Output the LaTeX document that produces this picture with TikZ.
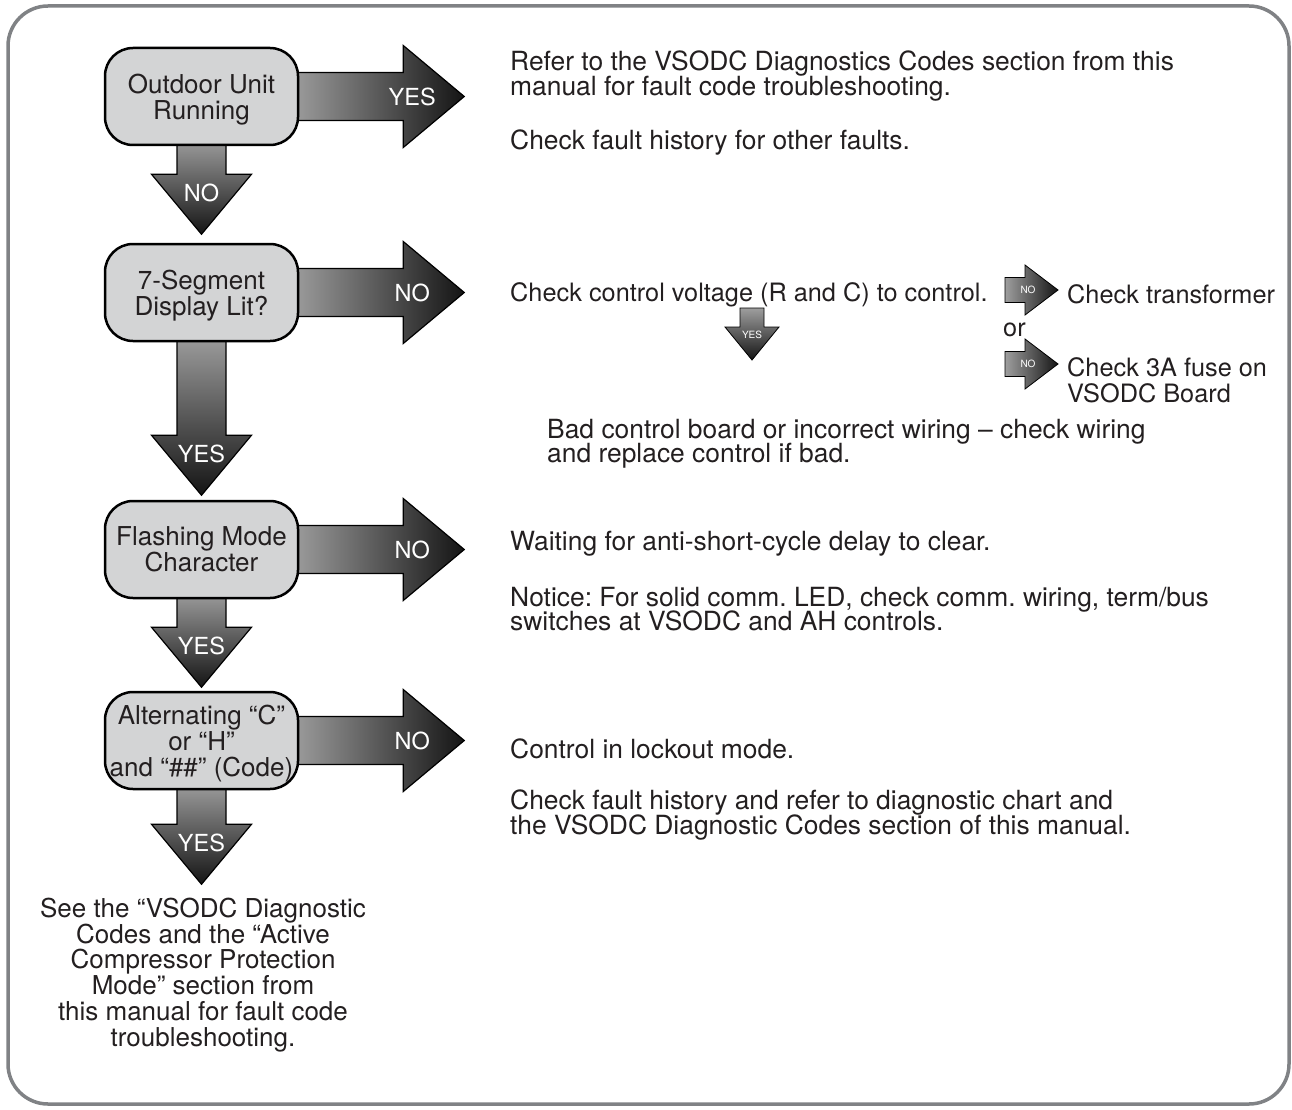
\documentclass[tikz,border=0pt]{standalone}
\usepackage{fontspec}
\setmainfont{TeX Gyre Heros}
\usepackage{tikz}
\usetikzlibrary{calc,backgrounds}
\definecolor{ink}{HTML}{231F20}
\definecolor{framegray}{HTML}{808285}
\definecolor{boxgray}{HTML}{D3D4D5}
\frenchspacing
\newcommand{\boxfont}{\fontsize{26}{26}\selectfont}
\newcommand{\notefont}{\fontsize{26.4}{24.5}\selectfont\lineskiplimit=-20pt}
\newcommand{\smallnotefont}{\fontsize{25.3}{26}\selectfont\lineskiplimit=-20pt}
\newcommand{\lblfont}{\fontsize{23.5}{24}\selectfont}
\newcommand{\tinyfont}{\fontsize{10}{10}\selectfont}

\tikzset{
  decision/.style={draw=black, line width=2.5pt, fill=boxgray, rounded corners=28pt,
    minimum width=193pt, minimum height=97pt, inner sep=2pt, text depth=0pt,
    align=center, font=\boxfont, text=ink},
  note/.style={anchor=west, align=left, inner sep=0pt, yshift=-3pt, font=\notefont, text=ink},
  smallnote/.style={note, font=\smallnotefont},
  rarrow/.style={draw=black, line width=1.2pt, left color=black!38, right color=black!92},
  darrow/.style={draw=black, line width=1.2pt, top color=black!38, bottom color=black!92},
  arrowlabel/.style={text=white, inner sep=0pt, font=\lblfont},
  tinylabel/.style={text=white, inner sep=0pt, font=\tinyfont},
}

% big block arrows hanging off a decision box
\newcommand{\bigright}[2]{%
  \begin{pgfonlayer}{background}
  \draw[rarrow] (#1.east) ++(-8,-24) -- ++(112,0) -- ++(0,-27) -- ++(61,51)
    -- ++(-61,51) -- ++(0,-27) -- ++(-112,0) -- cycle;
  \end{pgfonlayer}
  \node[arrowlabel] (#1-r) at ($(#1.east)+(113,0)$) {#2};}
\newcommand{\bigdown}[3]{%
  \begin{pgfonlayer}{background}
  \draw[darrow] (#1.south) ++(-24.5,-8) -- ++(0,#2+8) -- ++(-25.5,0) -- ++(50,60)
    -- ++(50,-60) -- ++(-25.5,0) -- ++(0,-#2-8) -- cycle;
  \end{pgfonlayer}
  \node[arrowlabel] (#1-d) at ($(#1.south)+(0,#2+19)$) {#3};}
% small ones between notes
\newcommand{\smallright}[2]{%
  \draw[rarrow, line width=0.8pt] (#1) ++(0,-12.5) -- ++(20,0) -- ++(0,-12.5) -- ++(33,25)
    -- ++(-33,25) -- ++(0,-12.5) -- ++(-20,0) -- cycle;
  \node[tinylabel] (#1-l) at ($(#1)+(23,0)$) {#2};}
\newcommand{\smalldown}[2]{%
  \draw[darrow, line width=0.8pt] (#1) ++(-12,0) -- ++(0,19) -- ++(-15,0) -- ++(27,33)
    -- ++(27,-33) -- ++(-15,0) -- ++(0,-19) -- cycle;
  \node[tinylabel] (#1-l) at ($(#1)+(0,27)$) {#2};}

\begin{document}
\begin{tikzpicture}[x=1pt,y=-1pt]
  \useasboundingbox (0,0) rectangle (1292,1110);
  \draw[framegray, line width=3.5pt, rounded corners=40pt] (8,6) rectangle (1289,1104);

  % decision boxes
  \node[decision] (run) at (201.5,96.5) {Outdoor Unit\\Running};
  \node[decision] (seg) at (201.5,292.5) {7-Segment\\Display Lit?};
  \node[decision] (flash) at (201.5,549.5) {Flashing Mode\\Character};
  \node[decision] (alt) at (201.5,740.5) {Alternating “C”\\or “H”\\and “\#\#” (Code)};

  \bigright{run}{YES}
  \bigright{seg}{NO}
  \bigright{flash}{NO}
  \bigright{alt}{NO}
  \bigdown{run}{28}{NO}
  \bigdown{seg}{93}{YES}
  \bigdown{flash}{28}{YES}
  \bigdown{alt}{34}{YES}

  \node[align=center, inner sep=0pt, font=\fontsize{26}{25.8}\selectfont, text=ink] (see) at (203,975)
    {See the “VSODC Diagnostic\\Codes and the “Active\\Compressor Protection\\Mode” section from\\this manual for fault code\\troubleshooting.};

  % notes on the right
  \node[note] (refer) at (510,73) {Refer to the VSODC Diagnostics Codes section from this\\manual for fault code troubleshooting.};
  \node[note] (hist) at (510,140) {Check fault history for other faults.};
  \node[smallnote] (volt) at (510,292) {Check control voltage (R and C) to control.};
  \node[smallnote] (trans) at (1067,291) {Check transformer};
  \node[smallnote] (orr) at (1003,327) {or};
  \node[smallnote] (fuse) at (1067,377) {Check 3A fuse on\\VSODC Board};
  \node[note] (bad) at (547,441) {Bad control board or incorrect wiring – check wiring\\and replace control if bad.};
  \node[note] (wait) at (510,541) {Waiting for anti-short-cycle delay to clear.};
  \node[note] (notice) at (510,606) {Notice: For solid comm. LED, check comm. wiring, term/bus\\switches at VSODC and AH controls.};
  \node[note] (lock) at (510,746) {Control in lockout mode.};
  \node[note] (chart) at (510,812) {Check fault history and refer to diagnostic chart and\\the VSODC Diagnostic Codes section of this manual.};

  \coordinate (noA) at (1005,290);
  \coordinate (noB) at (1005,364);
  \coordinate (yesA) at (752,308);
  \smallright{noA}{NO}
  \smallright{noB}{NO}
  \smalldown{yesA}{YES}
\end{tikzpicture}
\end{document}
